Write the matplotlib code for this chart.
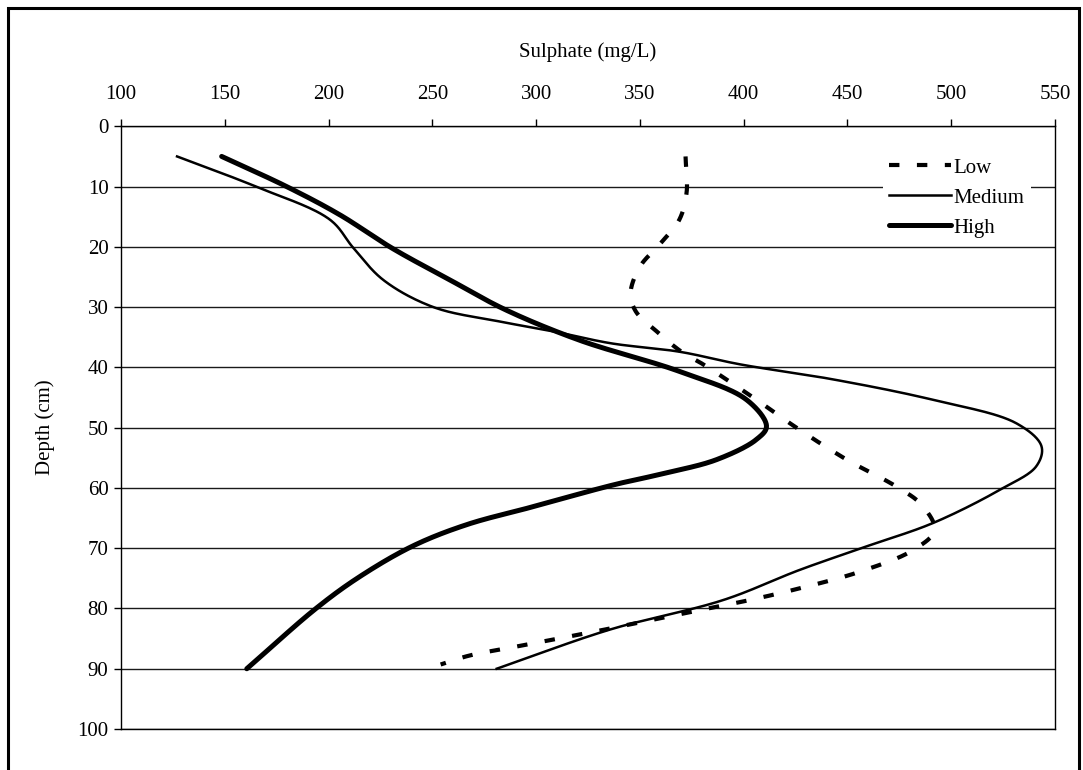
import numpy as np
import matplotlib
import matplotlib.pyplot as plt
from matplotlib.patches import Rectangle

matplotlib.use('Agg')
plt.rcParams['font.family'] = ['Liberation Serif', 'DejaVu Serif']

# sulphate profiles: (mg/L, depth cm)
low_sulphate = [372, 372.5, 369, 360, 350, 345.5, 348, 358, 370, 380.5, 404.6, 425.4,
                449.6, 473.7, 485.7, 492, 481.7, 456, 430, 403, 390, 336, 295.5, 268, 254]
low_depth = [5, 11, 15.5, 19.4, 23.3, 27.7, 30.7, 34, 37.4, 39.5, 45, 50,
             55.3, 59.8, 62.8, 67, 70.3, 73.9, 76.4, 78.6, 79.5, 83.3, 86, 87.8, 89.3]

medium_sulphate = [127, 165, 200.7, 212, 226.4, 250.5, 282.6, 308, 336, 369, 398.3,
                   443.2, 491.4, 531.5, 543.5, 541, 523.5, 491.4, 459.2, 427, 390.2, 335.6, 281]
medium_depth = [5, 10, 15.5, 20.2, 25.5, 30, 32.4, 34, 36, 37.4, 39.5,
                42, 45.4, 49.3, 53.1, 56.4, 60.3, 65.8, 69.7, 73.6, 78.6, 83.5, 90]

high_sulphate = [148.5, 179.8, 205.5, 230.5, 258.5, 285, 321, 369.3, 401.5, 411, 406, 387,
                 362.9, 337.2, 298.7, 266.5, 240.8, 215.1, 194.3, 160.6]
high_depth = [5, 10, 14.7, 20.2, 25.5, 30.4, 35.5, 40.7, 45.4, 49.8, 52, 55.3,
              57.5, 59.5, 63.1, 66.1, 69.6, 74.7, 79.9, 90]

x_ticks = [100, 150, 200, 250, 300, 350, 400, 450, 500, 550]
y_ticks = [0, 10, 20, 30, 40, 50, 60, 70, 80, 90, 100]


def smooth(x, y, steps=30, sx=2.08, sy=6.03):
    # centripetal Catmull-Rom through the points (spreadsheet-style smoothed line),
    # worked out in screen-like units so both axes weigh the same
    p = np.column_stack([np.asarray(x, float) * sx, np.asarray(y, float) * sy])
    p = np.vstack([2 * p[0] - p[1], p, 2 * p[-1] - p[-2]])
    segs = []
    for i in range(1, len(p) - 2):
        p0, p1, p2, p3 = p[i - 1], p[i], p[i + 1], p[i + 2]
        t0 = 0.0
        t1 = t0 + np.linalg.norm(p1 - p0) ** 0.5
        t2 = t1 + np.linalg.norm(p2 - p1) ** 0.5
        t3 = t2 + np.linalg.norm(p3 - p2) ** 0.5
        t = np.linspace(t1, t2, steps, endpoint=False)[:, None]
        a1 = (t1 - t) / (t1 - t0) * p0 + (t - t0) / (t1 - t0) * p1
        a2 = (t2 - t) / (t2 - t1) * p1 + (t - t1) / (t2 - t1) * p2
        a3 = (t3 - t) / (t3 - t2) * p2 + (t - t2) / (t3 - t2) * p3
        b1 = (t2 - t) / (t2 - t0) * a1 + (t - t0) / (t2 - t0) * a2
        b2 = (t3 - t) / (t3 - t1) * a2 + (t - t1) / (t3 - t1) * a3
        segs.append((t2 - t) / (t2 - t1) * b1 + (t - t1) / (t2 - t1) * b2)
    segs.append(p[-2][None, :])
    c = np.vstack(segs)
    return c[:, 0] / sx, c[:, 1] / sy


fontsize = 15
fig = plt.figure(figsize=(10.83, 7.70), dpi=100)
ax = fig.add_axes([121 / 1083, 1 - 729 / 770, (1055 - 121) / 1083, (729 - 126.3) / 770])

lx, ly = smooth(low_sulphate, low_depth)
ax.plot(lx, ly, color='black', lw=3.0, dashes=(2.5, 4.2), label='Low', zorder=3)
mx, my = smooth(medium_sulphate, medium_depth)
ax.plot(mx, my, color='black', lw=1.8, label='Medium', zorder=3)
hx, hy = smooth(high_sulphate, high_depth)
ax.plot(hx, hy, color='black', lw=3.6, label='High', zorder=3, solid_capstyle='round')

ax.set_xlim(100, 550)
ax.set_ylim(100, 0)
ax.set_xticks(x_ticks)
ax.set_yticks(y_ticks)
ax.xaxis.tick_top()
ax.xaxis.set_label_position('top')
ax.set_xlabel('Sulphate (mg/L)', fontsize=fontsize, labelpad=20)
ax.set_ylabel('Depth (cm)', fontsize=fontsize, labelpad=16)
ax.tick_params(axis='both', direction='out', length=5, width=1, labelsize=fontsize, color='black')
ax.tick_params(axis='x', pad=11)
ax.tick_params(axis='y', pad=4)
ax.grid(axis='y', color='#1a1a1a', lw=1.0)
ax.set_axisbelow(True)
for s in ax.spines.values():
    s.set_linewidth(1.0)
    s.set_color('black')

leg = ax.legend(loc='upper right', bbox_to_anchor=(0.985, 0.975), fontsize=fontsize,
                frameon=True, fancybox=False, handlelength=3.0, handletextpad=0.1,
                labelspacing=0.5, borderpad=0.3)
leg.get_frame().set_edgecolor('none')
leg.get_frame().set_facecolor('white')
leg.get_frame().set_alpha(1)

# outer frame round the whole chart, open at the bottom edge
fig.patches.append(Rectangle((8 / 1083, -10 / 770), 1071 / 1083, 772 / 770,
                             transform=fig.transFigure, fill=False,
                             edgecolor='black', lw=2.2))

fig.savefig('out.png', dpi=100)
